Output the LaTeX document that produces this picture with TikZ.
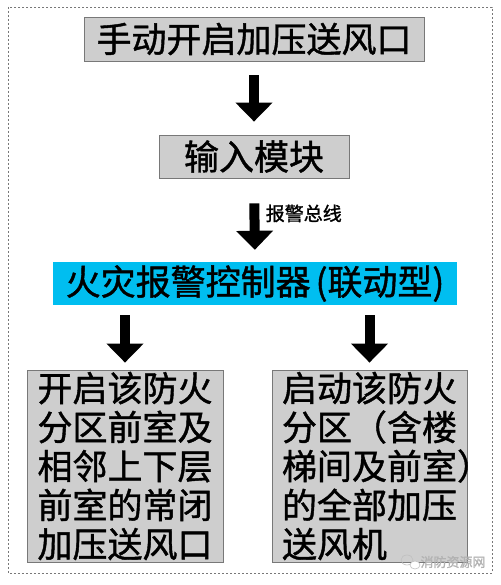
\documentclass[tikz,border=0pt]{standalone}
\usepackage{fontspec}
\setmainfont[FakeBold=1.2]{Noto Sans CJK SC}
\usetikzlibrary{arrows.meta}
\definecolor{boxgray}{RGB}{206,206,206}
\definecolor{edgegray}{RGB}{120,120,120}
\definecolor{alarmcyan}{RGB}{0,190,240}
\tikzset{
  graybox/.style={draw=edgegray, line width=0.8pt, fill=boxgray, inner sep=0pt,
    font=\fontsize{35pt}{39pt}\selectfont},
  tallbox/.style={graybox, minimum width=196pt, minimum height=192pt,
    align=left, text width=175pt},
  blockarrow/.style={line width=10pt, -{Triangle[width=36pt,length=19pt]}},
}
\begin{document}
\begin{tikzpicture}[x=1pt,y=-1pt]
\useasboundingbox (0,0) rectangle (500,585);
\fill[white] (0,0) rectangle (500,585);
\draw[edgegray, line width=0.6pt, dash pattern=on 2pt off 2pt] (8,7) rectangle (492,573);

\node[graybox, minimum width=340pt, minimum height=44pt] (manual) at (254,39) {手动开启加压送风口};
\node[graybox, minimum width=190pt, minimum height=43pt] (input) at (254,156.5) {输入模块};
\node[fill=alarmcyan, inner sep=0pt, minimum width=404pt, minimum height=43pt,
  font=\fontsize{35pt}{39pt}\selectfont] (ctrl) at (255,283.5) {火灾报警控制器\hspace{5pt}(联动型)};
\node[tallbox] (left) at (125,466) {开启该防火\\分区前室及\\相邻上下层\\前室的常闭\\加压送风口};
\node[tallbox, minimum width=195pt] (right) at (369.5,466) {启动该防火\\分区（含楼\\梯间及前室）\\的全部加压\\送风机};

\draw[blockarrow, shorten <=14pt, shorten >=13pt] (manual.south) -- (input.north);
\draw[blockarrow, shorten <=25pt, shorten >=12pt] (input.south) -- (ctrl.north)
  node[pos=0.42, right=3pt, font=\fontsize{19pt}{22pt}\selectfont] (bus) {报警总线};
\draw[blockarrow, shorten <=10pt, shorten >=7pt] (left.north |- ctrl.south) -- (left.north);
\draw[blockarrow, shorten <=10pt, shorten >=7pt] (right.north |- ctrl.south) -- (right.north);

\draw[gray!50, line width=0.6pt] (407,560) ellipse (6pt and 5pt);
\draw[gray!50, line width=0.6pt, fill=white] (415,565) ellipse (5pt and 4pt);
\node[text=gray!60, font=\fontsize{13pt}{15pt}\selectfont, inner sep=0pt] (wm) at (453,562) {消防资源网};
\end{tikzpicture}
\end{document}
